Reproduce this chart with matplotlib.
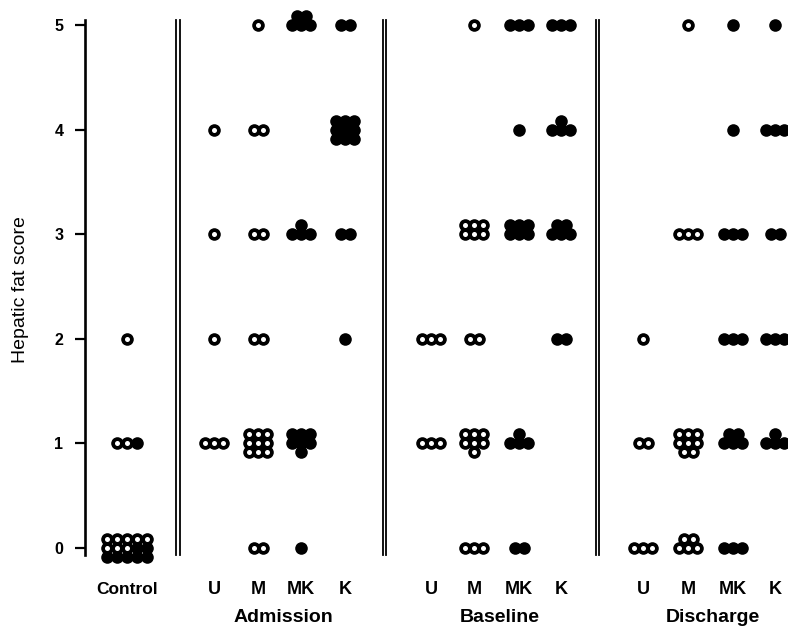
import matplotlib
matplotlib.use("Agg")
import matplotlib.pyplot as plt

plt.rcParams["font.family"] = ["Liberation Sans", "DejaVu Sans"]

# ---- data: number of animals at each hepatic fat score (0..5) ----
SCORES = [0, 1, 2, 3, 4, 5]
DIETS = ["U", "M", "MK", "K"]
PERIODS = ["Admission", "Baseline", "Discharge"]
OPEN_DIETS = ["U", "M"]          # open symbols, MK and K are filled

control_open = [8, 2, 1, 0, 0, 0]
control_filled = [7, 1, 0, 0, 0, 0]

admission_U = [0, 3, 1, 1, 1, 0]
admission_M = [2, 9, 2, 2, 2, 1]
admission_MK = [1, 7, 0, 4, 0, 5]
admission_K = [0, 0, 1, 2, 9, 2]

baseline_U = [0, 3, 3, 0, 0, 0]
baseline_M = [3, 7, 2, 6, 0, 1]
baseline_MK = [2, 4, 0, 6, 1, 3]
baseline_K = [0, 0, 2, 5, 4, 3]

discharge_U = [3, 2, 1, 0, 0, 0]
discharge_M = [5, 8, 0, 3, 0, 1]
discharge_MK = [3, 5, 3, 3, 1, 1]
discharge_K = [0, 4, 3, 2, 3, 1]

counts = {
    "Admission": [admission_U, admission_M, admission_MK, admission_K],
    "Baseline": [baseline_U, baseline_M, baseline_MK, baseline_K],
    "Discharge": [discharge_U, discharge_M, discharge_MK, discharge_K],
}

# ---- layout (pixel-like x units, score y units) ----
W, H = 788, 630
PX = 104.6                      # pixels per score unit
CONTROL_X = 127
COL_X = {"Admission": [214, 258, 301, 345],
         "Baseline": [431, 474, 519, 561],
         "Discharge": [643, 688, 733, 775]}
SEPS = [(176, 180), (383, 386), (596, 599)]
DX, DY = 9.0, 9.0 / PX
S_DOT, S_HOLE = 82, 13


def cluster(n, per_row=3, dx=DX):
    """offsets for n dots: first row on the score line, then above, below, ..."""
    pts, k = [], 0
    while n > 0:
        m = min(per_row, n)
        row = [0, 1, -1, 2, -2, 3, -3][k]
        for i in range(m):
            pts.append(((i - (m - 1) / 2) * dx, row * DY))
        n -= m
        k += 1
    # top rows first, then left to right
    return sorted(pts, key=lambda p: (-p[1], p[0]))


xs, ys, holes_x, holes_y = [], [], [], []


def add(x0, score, n_open, n_filled, per_row=3, dx=DX):
    pts = cluster(n_open + n_filled, per_row, dx)
    for j, (ox, oy) in enumerate(pts):
        xs.append(x0 + ox)
        ys.append(score + oy)
        if j < n_open:
            holes_x.append(x0 + ox)
            holes_y.append(score + oy)


for s, no, nf in zip(SCORES, control_open, control_filled):
    add(CONTROL_X, s, no, nf, per_row=5, dx=10.0)
for p in PERIODS:
    for d, cx, vals in zip(DIETS, COL_X[p], counts[p]):
        for s, n in zip(SCORES, vals):
            if d in OPEN_DIETS:
                add(cx, s, n, 0)
            else:
                add(cx, s, 0, n)

fig = plt.figure(figsize=(W / 100, H / 100), dpi=100)
ax = fig.add_axes([85 / W, 1 - 555 / H, (W - 85) / W, 535 / H])
ax.set_xlim(85, W)
ax.set_ylim((548 - 555) / PX, (548 - 20) / PX)

ax.scatter(xs, ys, s=S_DOT, color="black", linewidths=0, zorder=3, clip_on=False)
ax.scatter(holes_x, holes_y, s=S_HOLE, color="white", linewidths=0, zorder=4, clip_on=False)

# separators (double rules)
for a, b in SEPS:
    for x in (a, b):
        ax.plot([x, x], [(548 - 555) / PX, (548 - 20) / PX], color="black",
                lw=1.3, clip_on=False, zorder=2)

for sp in ("top", "right", "bottom"):
    ax.spines[sp].set_visible(False)
ax.spines["left"].set_linewidth(1.9)
ax.set_xticks([])
ax.set_yticks(SCORES)
ax.set_yticklabels([str(s) for s in SCORES], fontsize=11.5, fontweight="bold")
ax.tick_params(axis="y", direction="out", length=7.5, width=1.6, pad=8)

fig.text(21 / W, 1 - 290 / H, "Hepatic fat score", rotation=90,
         ha="center", va="center", fontsize=14)

# category labels
y_cat = (548 - 590) / PX
y_per = (548 - 618) / PX
ax.text(CONTROL_X, y_cat, "Control", ha="center", va="center",
        fontsize=12.5, fontweight="bold", clip_on=False)
for p in PERIODS:
    for d, cx in zip(DIETS, COL_X[p]):
        ax.text(cx, y_cat, d, ha="center", va="center", fontsize=13,
                fontweight="bold", clip_on=False)
    mid = (COL_X[p][0] + COL_X[p][-1]) / 2
    ax.text(mid + 4, y_per, p, ha="center", va="center", fontsize=14,
            fontweight="bold", clip_on=False)

fig.savefig("out.png", dpi=100)
